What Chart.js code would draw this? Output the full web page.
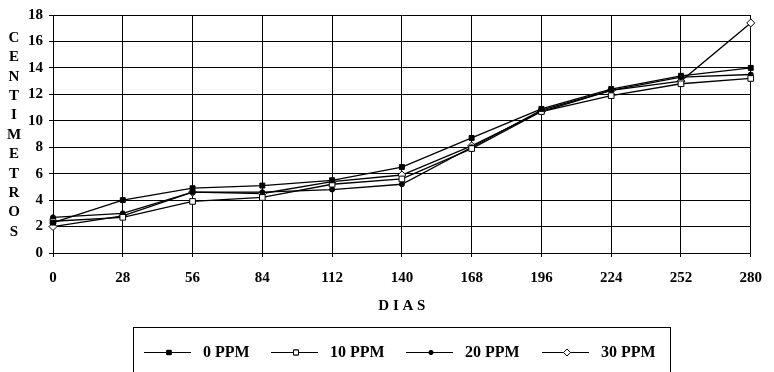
<!doctype html>
<html lang="es">
<head>
  <meta charset="utf-8" />
  <title>Centimetros por dias</title>
  <script src="https://cdn.jsdelivr.net/npm/chart.js@4.4.1/dist/chart.umd.min.js"></script>
  <style>
    *{box-sizing:border-box;margin:0;padding:0}
    html,body{background:#fff}
    #wrap{width:774px;height:372px;position:relative}
  </style>
</head>
<body>
  <div id="wrap"><canvas id="chart" width="774" height="372"></canvas></div>

  <script>
    /* ===== データ ===== */
    const dias = ['0','28','56','84','112','140','168','196','224','252','280'];
    const ppm0  = [2.3, 4.0, 4.9, 5.1, 5.5, 6.5, 8.7, 10.9, 12.4, 13.4, 14.0];
    const ppm10 = [2.4, 2.7, 3.9, 4.2, 5.2, 5.6, 7.9, 10.7, 11.9, 12.8, 13.2];
    const ppm20 = [2.7, 3.0, 4.6, 4.6, 4.8, 5.2, 8.0, 10.8, 12.3, 13.3, 13.5];
    const ppm30 = [2.0, 2.8, 4.6, 4.5, 5.4, 5.9, 8.1, 10.7, 12.3, 13.0, 17.4];
    const yTitle = 'CENTIMETROS';
    const xTitle = 'D I A S';

    const serif = '"Liberation Serif","Times New Roman",serif';

    /* ===== 系列 ===== */
    const series = [
      {label:'0 PPM',  data:ppm0,  pointStyle:'rect',    radius:3.5, bg:'#000'},
      {label:'10 PPM', data:ppm10, pointStyle:'rect',    radius:4,   bg:'#fff'},
      {label:'20 PPM', data:ppm20, pointStyle:'circle',  radius:2.5, bg:'#000'},
      {label:'30 PPM', data:ppm30, pointStyle:'rectRot', radius:4,   bg:'#fff'}
    ];

    /* ===== 縦書きタイトル + 凡例 ===== */
    const extras = {
      id:'extras',
      afterDraw(chart){
        const ctx = chart.ctx;
        ctx.save();
        ctx.fillStyle = '#000';
        ctx.font = 'bold 15px ' + serif;
        ctx.textAlign = 'center';
        ctx.textBaseline = 'middle';
        [...yTitle].forEach((ch, i) => ctx.fillText(ch, 14, 38 + i * 19.4));

        // 凡例の枠
        ctx.strokeStyle = '#000';
        ctx.lineWidth = 1;
        ctx.strokeRect(133.5, 327.5, 537, 60);

        const starts = [144, 271, 406, 542];
        const y = 352;
        ctx.textAlign = 'left';
        ctx.font = 'bold 16px ' + serif;
        series.forEach((s, i) => {
          const x0 = starts[i];
          ctx.beginPath();
          ctx.moveTo(x0, y + 0.5);
          ctx.lineTo(x0 + 47, y + 0.5);
          ctx.lineWidth = 1;
          ctx.strokeStyle = '#000';
          ctx.stroke();
          ctx.fillStyle = s.bg;
          Chart.helpers.drawPoint(ctx, {pointStyle:s.pointStyle, radius:s.radius - 0.5, borderWidth:1}, x0 + 25, y + 0.5);
          ctx.fill();
          ctx.stroke();
          ctx.fillStyle = '#000';
          ctx.fillText(s.label, x0 + 59, y + 1);
        });
        ctx.restore();
      }
    };

    new Chart(document.getElementById('chart'), {
      type:'line',
      data:{
        labels:dias,
        datasets:series.map(s => ({
          label:s.label,
          data:s.data,
          borderColor:'#000',
          borderWidth:1.3,
          backgroundColor:s.bg,
          pointStyle:s.pointStyle,
          pointRadius:s.radius,
          pointBorderColor:'#000',
          pointBorderWidth:1,
          tension:0
        }))
      },
      options:{
        responsive:false,
        animation:false,
        layout:{padding:{top:14, right:18, bottom:0, left:0}},
        plugins:{legend:{display:false}, tooltip:{enabled:false}},
        scales:{
          x:{
            type:'category',
            offset:false,
            grid:{color:'#000', lineWidth:1, tickLength:4},
            border:{color:'#000', width:1},
            ticks:{color:'#000', font:{family:serif, size:15, weight:'bold'}, padding:12, maxRotation:0},
            title:{display:true, text:xTitle, color:'#000', font:{family:serif, size:15, weight:'bold'}, padding:{top:0, bottom:57}},
            afterFit(s){ s.height = 119; }
          },
          y:{
            min:0, max:18,
            grid:{color:'#000', lineWidth:1, tickLength:4},
            border:{color:'#000', width:1},
            ticks:{stepSize:2, color:'#000', font:{family:serif, size:15, weight:'bold'}, padding:6},
            afterFit(s){ s.width = 53; }
          }
        }
      },
      plugins:[extras]
    });
  </script>
</body>
</html>
